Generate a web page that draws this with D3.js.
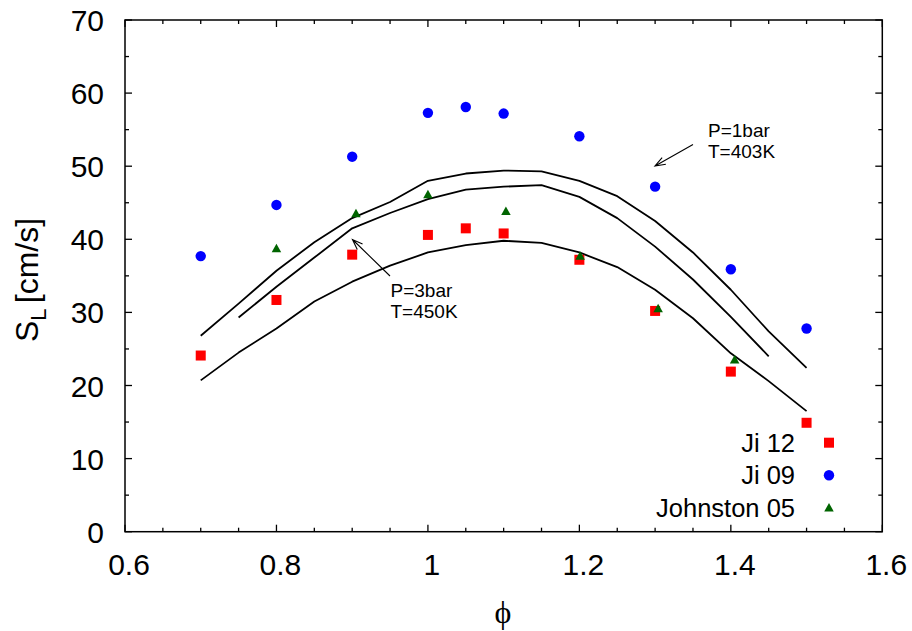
<!DOCTYPE html>
<html>
<head>
<meta charset="utf-8">
<script src="https://cdn.jsdelivr.net/npm/d3@7"></script>
<style>
  body { margin: 0; background: #fff; }
  text { font-family: 'Liberation Sans', Arial, sans-serif; fill: #000; }
</style>
</head>
<body>
<div id="chart"></div>
<script>
// data
const phiPts = [0.7, 0.8, 0.9, 1.0, 1.05, 1.1, 1.2, 1.3, 1.4, 1.5]
const ji12 = [24.1, 31.7, 37.9, 40.6, 41.5, 40.8, 37.2, 30.2, 21.9, 14.9]
const ji09 = [37.7, 44.7, 51.3, 57.3, 58.1, 57.2, 54.1, 47.2, 35.9, 27.8]
const phiJohnston = [0.8, 0.905, 1.0, 1.103, 1.201, 1.304, 1.405]
const johnston05 = [38.8, 43.6, 46.2, 43.9, 37.8, 30.6, 23.6]

const phiTop = [0.7, 0.75, 0.8, 0.85, 0.9, 0.95, 1.0, 1.05, 1.1, 1.15, 1.2, 1.25, 1.3, 1.35, 1.4, 1.45, 1.5]
const slTop = [26.8, 31.2, 35.7, 39.6, 42.9, 45.1, 48.0, 49.0, 49.4, 49.3, 48.0, 45.9, 42.5, 38.2, 33.1, 27.4, 22.4]
const phiMid = [0.75, 0.8, 0.85, 0.9, 0.95, 1.0, 1.05, 1.1, 1.15, 1.2, 1.25, 1.3, 1.35, 1.4, 1.45]
const slMid = [29.3, 33.5, 37.5, 41.5, 43.6, 45.5, 46.8, 47.2, 47.4, 45.8, 42.9, 39.0, 34.5, 29.4, 24.0]
const phiBot = [0.7, 0.75, 0.8, 0.85, 0.9, 0.95, 1.0, 1.05, 1.1, 1.15, 1.2, 1.25, 1.3, 1.35, 1.4, 1.45, 1.5]
const slBot = [20.7, 24.5, 27.8, 31.5, 34.2, 36.4, 38.2, 39.2, 39.8, 39.5, 38.2, 36.2, 33.1, 29.2, 24.4, 20.6, 16.5]

const xTicks = [0.6, 0.8, 1, 1.2, 1.4, 1.6]
const yTicks = [0, 10, 20, 30, 40, 50, 60, 70]
const legendNames = ['Ji 12', 'Ji 09', 'Johnston 05']
const legendColors = ['#ff0000', '#0000ff', '#006400']

const width = 912
const height = 631
const margin = { top: 20, right: 29.7, bottom: 99.3, left: 125 }

const svg = d3
  .select('#chart')
  .append('svg')
  .attr('width', width)
  .attr('height', height)

const x = d3.scaleLinear().domain([0.6, 1.6]).range([margin.left, width - margin.right])
const y = d3.scaleLinear().domain([0, 70]).range([height - margin.bottom, margin.top])

// ticks on all four sides, pointing inwards
const minorX = d3.range(0.6, 1.6001, 0.05)
const minorY = d3.range(0, 70.001, 5)
const isMajorX = v => xTicks.some(t => Math.abs(t - v) < 1e-6)
const isMajorY = v => yTicks.some(t => Math.abs(t - v) < 1e-6)
const tk = svg.append('g').attr('stroke', '#000').attr('stroke-width', 1.3)
minorX.forEach(v => {
  const len = isMajorX(v) ? 7 : 4
  tk.append('line').attr('x1', x(v)).attr('x2', x(v)).attr('y1', y(0)).attr('y2', y(0) - len)
  tk.append('line').attr('x1', x(v)).attr('x2', x(v)).attr('y1', y(70)).attr('y2', y(70) + len)
})
minorY.forEach(v => {
  const len = isMajorY(v) ? 7 : 4
  tk.append('line').attr('x1', x(0.6)).attr('x2', x(0.6) + len).attr('y1', y(v)).attr('y2', y(v))
  tk.append('line').attr('x1', x(1.6)).attr('x2', x(1.6) - len).attr('y1', y(v)).attr('y2', y(v))
})

// frame
svg
  .append('rect')
  .attr('x', x(0.6))
  .attr('y', y(70))
  .attr('width', x(1.6) - x(0.6))
  .attr('height', y(0) - y(70))
  .attr('fill', 'none')
  .attr('stroke', '#000')
  .attr('stroke-width', 1.5)

// tick labels
svg
  .append('g')
  .selectAll('text')
  .data(xTicks)
  .enter()
  .append('text')
  .attr('x', d => x(d) + 4)
  .attr('y', 575)
  .attr('text-anchor', 'middle')
  .style('font-size', '30px')
  .text(d => d3.format('')(d))

svg
  .append('g')
  .selectAll('text')
  .data(yTicks)
  .enter()
  .append('text')
  .attr('x', 104)
  .attr('y', d => y(d) + 11)
  .attr('text-anchor', 'end')
  .style('font-size', '30px')
  .text(d => d)

// axis titles
const yl = svg
  .append('text')
  .attr('transform', 'translate(38,280) rotate(-90)')
  .attr('text-anchor', 'middle')
  .style('font-size', '32px')
yl.append('tspan').text('S')
yl.append('tspan').attr('dy', 8).style('font-size', '22px').text('L ')
yl.append('tspan').attr('dy', -8).text('[cm/s]')

svg
  .append('text')
  .attr('x', 503)
  .attr('y', 623)
  .attr('text-anchor', 'middle')
  .style('font-family', "'Liberation Serif', 'DejaVu Serif', serif")
  .style('font-size', '32px')
  .text('ϕ')

// model curves
const line = d3.line().x(d => x(d[0])).y(d => y(d[1]))
const curves = [d3.zip(phiTop, slTop), d3.zip(phiMid, slMid), d3.zip(phiBot, slBot)]
svg
  .append('g')
  .selectAll('path')
  .data(curves)
  .enter()
  .append('path')
  .attr('d', line)
  .attr('fill', 'none')
  .attr('stroke', '#000')
  .attr('stroke-width', 1.8)
  .attr('stroke-linejoin', 'round')

// markers
function triangle(cx, cy) {
  const w = 9.5
  const h = 8.5
  return `M${cx},${cy - h / 2}L${cx + w / 2},${cy + h / 2}L${cx - w / 2},${cy + h / 2}Z`
}

svg
  .append('g')
  .selectAll('rect')
  .data(d3.zip(phiPts, ji12))
  .enter()
  .append('rect')
  .attr('x', d => x(d[0]) - 5)
  .attr('y', d => y(d[1]) - 5)
  .attr('width', 10)
  .attr('height', 10)
  .attr('fill', legendColors[0])

svg
  .append('g')
  .selectAll('circle')
  .data(d3.zip(phiPts, ji09))
  .enter()
  .append('circle')
  .attr('cx', d => x(d[0]))
  .attr('cy', d => y(d[1]))
  .attr('r', 5.2)
  .attr('fill', legendColors[1])

svg
  .append('g')
  .selectAll('path')
  .data(d3.zip(phiJohnston, johnston05))
  .enter()
  .append('path')
  .attr('d', d => triangle(x(d[0]), y(d[1])))
  .attr('fill', legendColors[2])

// annotations with open arrow heads
function arrow(x1, y1, x2, y2) {
  const a = Math.atan2(y2 - y1, x2 - x1)
  const L = 11
  const s = 0.35
  const p1 = [x2 - L * Math.cos(a - s), y2 - L * Math.sin(a - s)]
  const p2 = [x2 - L * Math.cos(a + s), y2 - L * Math.sin(a + s)]
  return `M${x1},${y1}L${x2},${y2}M${p1[0]},${p1[1]}L${x2},${y2}L${p2[0]},${p2[1]}`
}
const ann = svg.append('g')
ann
  .append('path')
  .attr('d', arrow(693, 144.5, 655, 166))
  .attr('fill', 'none')
  .attr('stroke', '#000')
  .attr('stroke-width', 1.1)
ann
  .append('path')
  .attr('d', arrow(390, 276, 352.5, 239.5))
  .attr('fill', 'none')
  .attr('stroke', '#000')
  .attr('stroke-width', 1.1)

const annText = [
  { x: 708, y: 136.7, lines: ['P=1bar', 'T=403K'] },
  { x: 390.5, y: 296.7, lines: ['P=3bar', 'T=450K'] }
]
annText.forEach(a => {
  a.lines.forEach((t, i) => {
    ann
      .append('text')
      .attr('x', a.x)
      .attr('y', a.y + i * 21.3)
      .style('font-size', '19px')
      .text(t)
  })
})

// legend
const legend = svg
  .append('g')
  .selectAll('g')
  .data(legendNames)
  .enter()
  .append('g')
  .attr('transform', (d, i) => 'translate(0,' + (451.7 + i * 32.5) + ')')

legend
  .append('text')
  .attr('x', 795)
  .attr('text-anchor', 'end')
  .style('font-size', '25.5px')
  .text(d => d)

legend.each(function(d, i) {
  const g = d3.select(this)
  if (i === 0) {
    g.append('rect').attr('x', 824).attr('y', -14).attr('width', 10).attr('height', 10).attr('fill', legendColors[0])
  } else if (i === 1) {
    g.append('circle').attr('cx', 829).attr('cy', -9).attr('r', 5.2).attr('fill', legendColors[1])
  } else {
    g.append('path').attr('d', triangle(829, -9.5)).attr('fill', legendColors[2])
  }
})
</script>
</body>
</html>
